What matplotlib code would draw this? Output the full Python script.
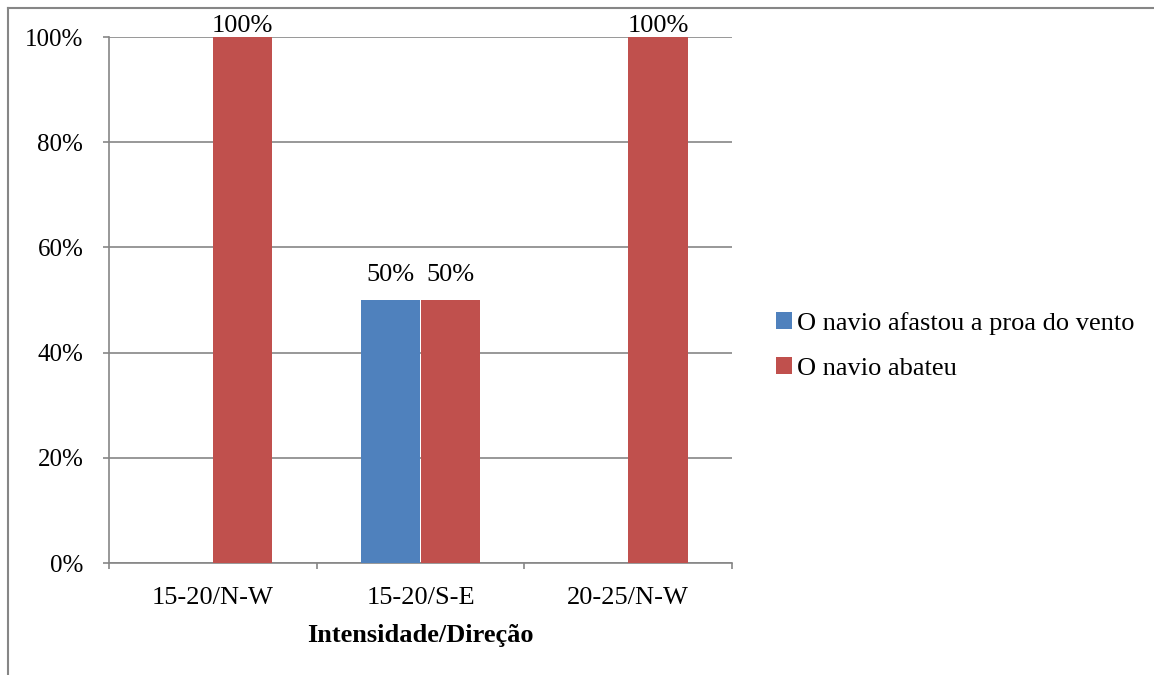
import numpy as np
import matplotlib.pyplot as plt
from matplotlib.patches import Patch
from matplotlib.lines import Line2D

categories = ['15-20/N-W', '15-20/S-E', '20-25/N-W']
series_names = ['O navio afastou a proa do vento', 'O navio abateu']
afastou = [0, 50, 0]
abateu = [100, 50, 100]
yticks = [0, 20, 40, 60, 80, 100]

colors = ['#4F81BD', '#C0504D']
grid_color = '#868686'

plt.rcParams['font.family'] = ['Liberation Serif', 'DejaVu Serif']
plt.rcParams['font.size'] = 19

fig = plt.figure(figsize=(11.54, 6.75), dpi=100)
ax = fig.add_axes([109 / 1154, 1 - 563 / 675, (732 - 109) / 1154, (563 - 37) / 675])

x = np.arange(len(categories))
w = 0.286
values = [afastou, abateu]
offsets = [-w / 2, w / 2]
for vals, off, col in zip(values, offsets, colors):
    bars = ax.bar(x + off, vals, width=w, color=col, zorder=3, linewidth=0)
    for b, v in zip(bars, vals):
        if v == 0:
            continue
        dy = 0 if v == 100 else 14
        ax.annotate(f'{v}%', (b.get_x() + b.get_width() / 2, v),
                    xytext=(0, dy), textcoords='offset pixels',
                    ha='center', va='bottom', fontsize=19, zorder=4)

ax.set_xlim(-0.5, len(categories) - 0.5)
ax.set_ylim(0, 100)
ax.set_yticks(yticks)
ax.set_yticklabels([f'{t}%' for t in yticks], fontsize=18)
ax.set_xticks(x)
ax.set_xticklabels(categories)
ax.set_xticks(np.arange(len(categories) + 1) - 0.5, minor=True)
ax.tick_params(axis='x', which='major', length=0, pad=17)
ax.tick_params(axis='x', which='minor', length=4.5, color=grid_color, width=1.2)
ax.tick_params(axis='y', length=4.5, color=grid_color, width=1.2, pad=14)
ax.yaxis.grid(True, color=grid_color, linewidth=1.2, zorder=0)
ax.set_axisbelow(True)
for s in ['top', 'right']:
    ax.spines[s].set_visible(False)
for s in ['left', 'bottom']:
    ax.spines[s].set_color(grid_color)
    ax.spines[s].set_linewidth(1.2)

ax.set_xlabel('Intensidade/Direção', fontweight='bold', fontsize=19, labelpad=11)

handles = [Patch(facecolor=c, edgecolor='none') for c in colors]
fig.legend(handles, series_names, loc='center left',
           bbox_to_anchor=(752 / 1154, 1 - 346 / 675), frameon=False,
           handlelength=0.6, handleheight=0.6, handletextpad=0.2,
           labelspacing=0.85, fontsize=19)

# outer chart frame (partly cropped in the original)
fig.add_artist(Line2D([8 / 1154, 1], [1 - 8 / 675, 1 - 8 / 675],
                      transform=fig.transFigure, color=grid_color, linewidth=1.5))
fig.add_artist(Line2D([8 / 1154, 8 / 1154], [0, 1 - 8 / 675],
                      transform=fig.transFigure, color=grid_color, linewidth=1.5))

fig.savefig('out.png', dpi=100)
